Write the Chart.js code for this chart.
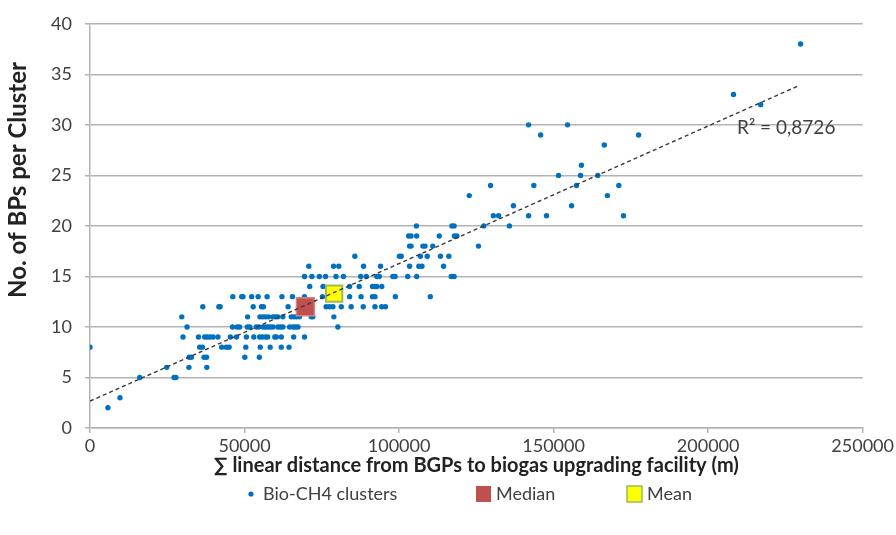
<!DOCTYPE html>
<html>
<head>
<meta charset="utf-8">
<script src="https://cdn.jsdelivr.net/npm/chart.js@4.4.1/dist/chart.umd.min.js"></script>
<style>
  html, body { margin: 0; padding: 0; background: #fff; }
</style>
</head>
<body>
<canvas id="chart" width="896" height="535"></canvas>
<script>
// No. of BPs per cluster, one entry per row of points
var bpRows = [2, 3, 5, 6, 7, 8, 9, 10, 11, 12, 13, 14, 15, 16, 17, 18, 19, 20, 21, 22, 23, 24, 25, 26, 28, 29, 30, 32, 33, 38];
// summed linear distance (m) of the clusters on each row
var distRows = [
  [5800],
  [9700],
  [16100, 27200, 27800],
  [24800, 32000, 37800],
  [32100, 32800, 36900, 37700, 50100, 54800],
  [0, 35500, 36400, 42600, 44100, 45000, 50400, 55100, 58300, 61900, 64400],
  [30100, 35100, 37100, 37900, 38800, 39800, 41400, 45400, 47400, 50600, 53000, 54900, 55800, 56800, 57500, 59800, 60300, 61900, 65900, 69400],
  [31400, 46100, 47600, 48400, 50900, 51700, 53800, 54600, 56000, 56800, 57600, 58300, 59200, 60800, 61600, 62400, 64600, 65700, 66500, 67300, 80200],
  [29700, 51000, 55000, 55900, 56800, 57800, 59200, 60000, 60800, 62400, 65100, 66000, 66800, 67800, 71600, 72100, 78900],
  [36500, 41700, 42100, 52800, 55500, 56100, 64100, 76400, 77500, 78600, 81300, 84500, 88400, 92200, 94400, 95600],
  [46200, 49100, 49500, 52300, 54400, 57300, 62100, 65500, 69400, 75200, 84000, 87700, 91400, 92200, 98800, 110100],
  [71100, 75400, 84000, 87100, 91400, 92200, 92800, 94400],
  [69400, 71800, 74200, 76200, 79600, 82000, 87600, 89400, 92800, 93600, 98000, 98700, 102800, 105700, 116900, 117800],
  [70800, 78800, 80500, 88500, 94000, 103400, 106400, 107400, 114400],
  [85700, 100100, 100700, 106900, 109100, 113400, 116100],
  [103400, 103900, 107700, 108400, 110900, 125700],
  [103100, 103900, 105700, 113000, 117900, 118700],
  [105600, 117100, 117800, 127400, 135700],
  [130500, 132200, 141900, 147700, 172600],
  [137000, 155800],
  [122700, 167400],
  [129600, 143600, 157400, 171100],
  [151600, 158700, 164300],
  [159000],
  [166400],
  [145800, 177500],
  [141900, 154500],
  [217000],
  [208200],
  [229900]
];
var medianPoint = [69700, 12.0];
var meanPoint = [79000, 13.3];
// ends of the linear trend line
var trendStart = [0, 2.66];
var trendEnd = [229500, 33.9];
var xTicks = [0, 50000, 100000, 150000, 200000, 250000];
var yTicks = [0, 5, 10, 15, 20, 25, 30, 35, 40];
var r2Text = "R\u00b2 = 0,8726";
var yTitle = "No. of BPs per Cluster";
var legendNames = ["Bio-CH4 clusters", "Median", "Mean"];

var FONT = "Lato";
var BLUE = "#0070C0";

var clusters = [];
for (var i = 0; i < bpRows.length; i++) {
  for (var j = 0; j < distRows[i].length; j++) {
    clusters.push({ x: distRows[i][j], y: bpRows[i] });
  }
}

// y title, R² label and the bottom legend
var extras = {
  id: "extras",
  afterDraw: function (chart) {
    var ctx = chart.ctx;
    ctx.save();
    ctx.textBaseline = "middle";

    ctx.save();
    ctx.translate(18, 180);
    ctx.rotate(-Math.PI / 2);
    ctx.textAlign = "center";
    ctx.font = "bold 24px " + FONT;
    ctx.fillStyle = "#222";
    ctx.fillText(yTitle, 0, 0);
    ctx.restore();

    ctx.textAlign = "left";
    ctx.font = "19px " + FONT;
    ctx.fillStyle = "#404040";
    ctx.fillText(r2Text, 737, 128);

    ctx.font = "18px " + FONT;
    var ly = 494;
    ctx.fillStyle = BLUE;
    ctx.beginPath();
    ctx.arc(251, ly, 2.6, 0, Math.PI * 2);
    ctx.fill();
    ctx.fillStyle = "#404040";
    ctx.fillText(legendNames[0], 263, ly);

    ctx.fillStyle = "#C0504D";
    ctx.fillRect(476, ly - 8, 15, 16);
    ctx.fillStyle = "#404040";
    ctx.fillText(legendNames[1], 496, ly);

    ctx.fillStyle = "#FFFF00";
    ctx.fillRect(627, ly - 8, 15, 16);
    ctx.strokeStyle = "#9BBB59";
    ctx.lineWidth = 1.5;
    ctx.strokeRect(627, ly - 8, 15, 16);
    ctx.fillStyle = "#404040";
    ctx.fillText(legendNames[2], 647, ly);
    ctx.restore();
  }
};

new Chart(document.getElementById("chart"), {
  type: "scatter",
  data: {
    datasets: [
      {
        label: "Linear trend",
        type: "line",
        data: [{ x: trendStart[0], y: trendStart[1] }, { x: trendEnd[0], y: trendEnd[1] }],
        borderColor: "#3a3a3a",
        borderWidth: 1.4,
        borderDash: [4, 3],
        pointRadius: 0,
        fill: false,
        order: 0
      },
      {
        label: legendNames[2],
        data: [{ x: meanPoint[0], y: meanPoint[1] }],
        pointStyle: "rect",
        pointRadius: 11.5,
        backgroundColor: "#FFFF00",
        borderColor: "#9BBB59",
        borderWidth: 2,
        order: 1
      },
      {
        label: legendNames[1],
        data: [{ x: medianPoint[0], y: medianPoint[1] }],
        pointStyle: "rect",
        pointRadius: 12.7,
        backgroundColor: "#C0504D",
        borderColor: "#D9837F",
        borderWidth: 1.5,
        order: 2
      },
      {
        label: legendNames[0],
        data: clusters,
        pointRadius: 2.7,
        backgroundColor: BLUE,
        borderWidth: 0,
        order: 3
      }
    ]
  },
  options: {
    responsive: false,
    animation: false,
    layout: { padding: { top: 7, right: 32, bottom: 0, left: 0 } },
    plugins: {
      legend: { display: false },
      tooltip: { enabled: false }
    },
    scales: {
      x: {
        type: "linear",
        min: xTicks[0],
        max: xTicks[xTicks.length - 1],
        afterBuildTicks: function (scale) {
          scale.ticks = xTicks.map(function (v) { return { value: v }; });
        },
        afterFit: function (scale) { scale.height = 107; },
        grid: { drawOnChartArea: false, drawTicks: true, tickLength: 5, color: "#B3B3B3", lineWidth: 1.5 },
        border: { color: "#B3B3B3", width: 1.5 },
        ticks: {
          padding: 2,
          color: "#404040",
          font: { family: FONT, size: 18 },
          maxRotation: 0,
          callback: function (v) { return String(v); }
        },
        title: {
          display: true,
          text: "\u2211 linear distance from BGPs to biogas upgrading facility (m)",
          color: "#222",
          font: { family: FONT, size: 20, weight: "bold" },
          padding: { top: 0, bottom: 57 }
        }
      },
      y: {
        min: yTicks[0],
        max: yTicks[yTicks.length - 1],
        afterBuildTicks: function (scale) {
          scale.ticks = yTicks.map(function (v) { return { value: v }; });
        },
        afterFit: function (scale) { scale.width = 90; },
        grid: { color: "#B3B3B3", lineWidth: 1.5, tickLength: 5 },
        border: { color: "#B3B3B3", width: 1.5 },
        ticks: {
          padding: 13,
          color: "#404040",
          font: { family: FONT, size: 18 }
        }
      }
    }
  },
  plugins: [extras]
});
</script>
</body>
</html>
